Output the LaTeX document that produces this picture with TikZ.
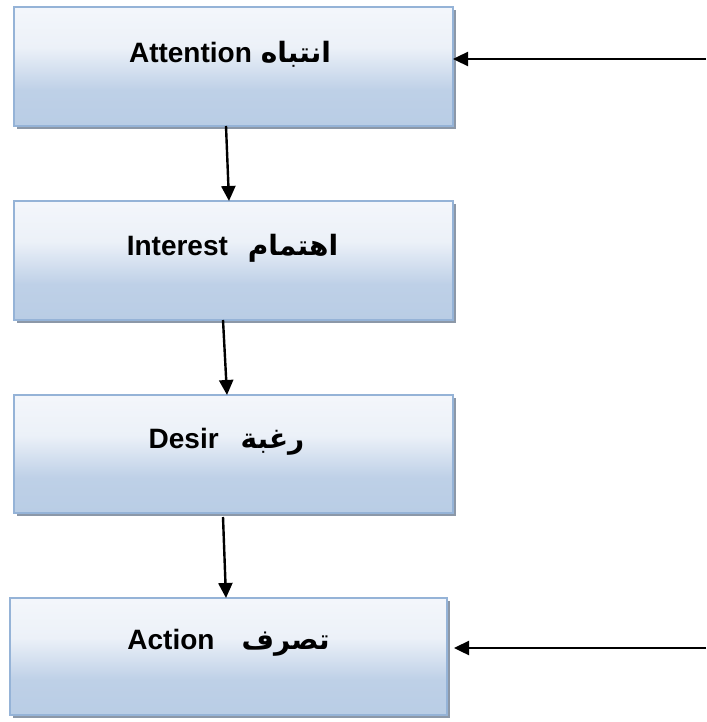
\documentclass[tikz,border=0pt]{standalone}
\usepackage{fontspec}
\setmainfont{Liberation Sans}
\newfontfamily\arabicfont[Script=Arabic]{DejaVu Sans}
\TeXXeTstate=1
\usetikzlibrary{arrows.meta,shadows}

% light-to-blue fill of the stage boxes (bottom -> top)
\pgfdeclareverticalshading{stagefill}{100bp}{%
  rgb(0bp)=(0.725,0.804,0.898);
  rgb(25bp)=(0.725,0.804,0.898);
  rgb(40bp)=(0.745,0.816,0.906);
  rgb(58bp)=(0.925,0.945,0.973);
  rgb(75bp)=(0.955,0.966,0.984);
  rgb(100bp)=(0.955,0.966,0.984)}

\definecolor{stageborder}{RGB}{149,179,215}
\definecolor{stageshadow}{RGB}{140,152,168}

\tikzset{
  stage/.style={rectangle, draw=stageborder, line width=2pt,
    shading=stagefill, minimum width=439pt, minimum height=119pt,
    inner sep=0pt, outer sep=0pt,
    drop shadow={shadow xshift=3pt, shadow yshift=-3pt,
                 fill=stageshadow, opacity=1}},
  stagetext/.style={anchor=base, inner sep=0pt,
    font=\fontsize{28}{30}\selectfont\bfseries},
  flow/.style={draw=black, line width=2.4pt,
    -{Triangle[length=15pt,width=14pt]}}
}

\newcommand{\ar}[1]{{\arabicfont\bfseries\beginR #1\endR}}

\begin{document}
\begin{tikzpicture}[x=1pt,y=-1pt]
  \useasboundingbox (0,0) rectangle (706,722);

  % the four stages
  \node[stage] (b1) at (233.5,66.5) {};
  \node[stage] (b2) at (233.5,260.5) {};
  \node[stage, minimum height=118pt] (b3) at (233.5,454) {};
  \node[stage, minimum width=437pt, minimum height=117pt] (b4) at (228.5,656.5) {};

  % stage labels
  \node[stagetext] (t1) at (230,63) {Attention\hspace{9pt}\ar{انتباه}};
  \node[stagetext] (t2) at (232.5,255) {Interest\hspace{20pt}\ar{اهتمام}};
  \node[stagetext] (t3) at (226.5,448) {Desir\hspace{22pt}\ar{رغبة}};
  \node[stagetext] (t4) at (228.5,649) {Action\hspace{27pt}\ar{تصرف}};

  % downward flow between stages
  \draw[flow] ([xshift=-7.5pt]b1.south) -- ([xshift=-4.5pt]b2.north);
  \draw[flow] ([xshift=-10.5pt]b2.south) -- ([xshift=-6.5pt]b3.north);
  \draw[flow] ([xshift=-10.5pt,yshift=-4pt]b3.south) -- ([xshift=-2.5pt]b4.north);

  % inputs entering from the right
  \coordinate (in1) at (706,59);
  \coordinate (in2) at (706,648);
  \draw[flow] (in1) -- (in1 -| b1.east);
  \draw[flow] (in2) -- ([xshift=7pt]in2 -| b4.east);
\end{tikzpicture}
\end{document}
